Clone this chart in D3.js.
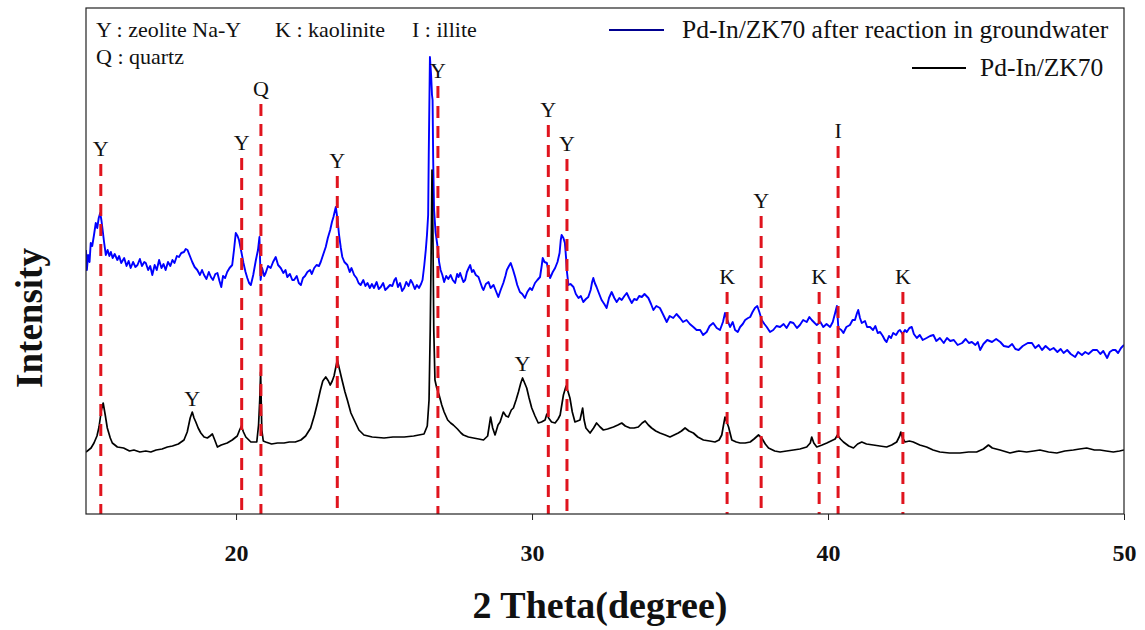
<!DOCTYPE html>
<html><head><meta charset="utf-8">
<script src="https://cdn.jsdelivr.net/npm/d3@7"></script>
<style>body{margin:0;background:#fff} svg{display:block}</style>
</head><body>
<svg id="chart" width="1145" height="630"></svg>
<script>
// ---------- data (2θ in degrees, intensity in arbitrary units) ----------
const blackPattern = [
[14.93,62],[15.1,66],[15.2,71],[15.3,78],[15.37,87],[15.45,104],[15.51,111],[15.58,99],[15.65,86],[15.75,76],[15.82,71],[15.99,67],
[16.2,66],[16.4,63],[16.55,64],[16.75,62],[16.95,63],[17.12,62],[17.3,64],[17.5,65],[17.68,67],[17.85,68],[18.05,70],[18.24,74],
[18.35,82],[18.45,96],[18.52,102],[18.58,96],[18.64,92],[18.72,86],[18.81,81],[18.92,77],[19.03,76],[19.12,78],[19.2,80],[19.28,74],
[19.37,67],[19.5,69],[19.7,71],[19.87,74],[20.04,78],[20.12,84],[20.18,88],[20.25,82],[20.33,77],[20.5,72],[20.7,72],[20.76,89],
[20.8,114],[20.83,142],[20.87,84],[20.92,73],[21.0,72],[21.2,70],[21.4,71],[21.62,71],[21.8,72],[22.0,72],[22.19,74],[22.35,78],
[22.52,86],[22.65,99],[22.75,111],[22.85,124],[22.93,133],[23.03,137],[23.12,133],[23.18,129],[23.25,133],[23.31,138],[23.42,154],
[23.5,144],[23.58,134],[23.68,122],[23.76,114],[23.88,101],[23.99,94],[24.15,84],[24.32,79],[24.6,77],[25.0,76],[25.3,77],[25.68,77],
[26.0,78],[26.35,80],[26.46,88],[26.52,114],[26.56,184],[26.6,284],[26.62,344],[26.65,284],[26.68,184],[26.72,134],[26.78,126],
[26.86,119],[26.95,109],[27.03,102],[27.15,94],[27.25,91],[27.34,89],[27.48,85],[27.6,81],[27.68,79],[27.85,77],[28.02,76],[28.2,75],
[28.36,74],[28.5,78],[28.6,97],[28.67,86],[28.75,79],[28.85,89],[28.92,92],[29.03,102],[29.12,98],[29.2,97],[29.3,104],[29.37,106],
[29.46,114],[29.54,122],[29.62,131],[29.68,136],[29.75,131],[29.82,126],[29.9,116],[29.99,106],[30.1,98],[30.21,91],[30.32,92],
[30.44,94],[30.5,100],[30.56,96],[30.66,92],[30.78,91],[30.88,95],[30.95,99],[31.06,119],[31.15,128],[31.22,122],[31.28,116],
[31.36,102],[31.45,92],[31.62,94],[31.68,102],[31.71,106],[31.76,94],[31.82,86],[31.96,81],[32.08,86],[32.18,91],[32.3,87],[32.41,84],
[32.55,85],[32.75,87],[32.9,89],[33.03,91],[33.15,88],[33.31,86],[33.45,86],[33.59,87],[33.72,91],[33.82,93],[33.93,89],[34.04,86],
[34.18,83],[34.32,81],[34.5,79],[34.66,77],[34.8,79],[34.94,81],[35.05,83],[35.17,86],[35.3,83],[35.45,81],[35.6,77],[35.79,74],
[36.0,73],[36.18,72],[36.32,74],[36.41,79],[36.47,89],[36.52,97],[36.58,92],[36.64,87],[36.75,74],[36.9,72],[37.03,71],[37.2,71],
[37.37,72],[37.5,75],[37.65,79],[37.76,76],[37.88,70],[37.99,66],[38.2,63],[38.38,62],[38.6,63],[38.83,64],[39.05,65],[39.28,67],
[39.4,71],[39.45,77],[39.52,71],[39.62,67],[39.8,69],[39.96,71],[40.1,73],[40.24,75],[40.32,79],[40.42,75],[40.52,72],[40.7,68],
[40.86,66],[41.0,70],[41.14,72],[41.3,70],[41.53,69],[41.75,68],[41.98,67],[42.15,69],[42.32,72],[42.42,78],[42.46,82],[42.52,76],
[42.6,72],[42.75,73],[42.88,72],[43.1,69],[43.33,67],[43.55,64],[43.78,62],[44.1,61],[44.46,61],[44.75,62],[45.02,62],[45.25,65],
[45.42,69],[45.55,66],[45.81,64],[46.15,61],[46.45,63],[46.71,62],[46.95,63],[47.16,64],[47.45,62],[47.73,61],[48.0,63],[48.29,64],
[48.5,65],[48.74,66],[49.0,64],[49.19,64],[49.4,63],[49.64,62],[49.85,63],[50.0,64]
];
const bluePattern = [
[14.93,264],[14.96,244],[15.0,259],[15.05,252],[15.09,271],[15.14,268],[15.2,279],[15.26,291],[15.31,286],[15.36,296],[15.41,301],
[15.45,294],[15.48,287],[15.54,272],[15.6,259],[15.66,264],[15.72,258],[15.77,262],[15.83,256],[15.9,260],[15.99,254],[16.05,258],
[16.12,251],[16.22,256],[16.3,248],[16.37,253],[16.44,246],[16.52,252],[16.6,247],[16.67,249],[16.75,255],[16.82,248],[16.9,252],
[16.95,251],[17.03,244],[17.1,248],[17.17,239],[17.25,249],[17.32,244],[17.4,254],[17.48,246],[17.55,250],[17.62,244],[17.7,252],
[17.78,248],[17.85,254],[17.92,251],[18.0,258],[18.07,257],[18.15,261],[18.24,262],[18.3,265],[18.36,264],[18.44,258],[18.52,252],
[18.6,247],[18.69,244],[18.78,239],[18.85,244],[18.92,239],[19.0,235],[19.08,242],[19.15,237],[19.22,234],[19.3,240],[19.37,241],
[19.44,233],[19.5,227],[19.56,238],[19.63,236],[19.7,242],[19.78,246],[19.87,249],[19.93,264],[19.99,281],[20.05,278],[20.1,274],
[20.18,262],[20.25,251],[20.32,242],[20.38,236],[20.44,231],[20.5,229],[20.58,239],[20.67,254],[20.74,264],[20.79,277],[20.83,234],
[20.88,246],[20.95,238],[21.0,241],[21.08,248],[21.17,246],[21.25,252],[21.34,257],[21.42,249],[21.51,246],[21.6,241],[21.67,244],
[21.73,237],[21.82,240],[21.9,234],[21.96,234],[22.05,238],[22.12,231],[22.19,229],[22.26,236],[22.33,238],[22.41,242],[22.5,244],
[22.56,240],[22.64,246],[22.72,249],[22.8,248],[22.86,252],[22.95,260],[23.03,267],[23.1,276],[23.18,284],[23.24,292],[23.29,297],
[23.37,307],[23.43,294],[23.48,279],[23.54,266],[23.59,257],[23.66,252],[23.76,249],[23.84,242],[23.9,246],[23.99,239],[24.07,236],
[24.14,231],[24.21,229],[24.3,234],[24.37,228],[24.44,231],[24.52,226],[24.59,230],[24.66,226],[24.75,232],[24.82,225],[24.89,227],
[24.97,231],[25.04,224],[25.11,226],[25.2,229],[25.28,228],[25.35,234],[25.4,236],[25.47,227],[25.54,231],[25.61,223],[25.68,226],
[25.75,232],[25.83,228],[25.9,234],[25.96,231],[26.04,225],[26.11,229],[26.18,226],[26.25,230],[26.3,234],[26.36,249],[26.41,264],
[26.45,279],[26.49,299],[26.51,359],[26.55,457],[26.59,439],[26.62,419],[26.64,414],[26.66,354],[26.69,304],[26.74,282],[26.8,269],
[26.86,252],[26.91,244],[26.97,239],[27.03,232],[27.1,238],[27.17,235],[27.25,239],[27.32,234],[27.4,231],[27.47,240],[27.52,237],
[27.57,241],[27.63,236],[27.68,232],[27.74,234],[27.8,242],[27.86,246],[27.91,249],[27.97,242],[28.02,244],[28.1,239],[28.19,237],
[28.26,231],[28.32,226],[28.36,224],[28.44,230],[28.53,232],[28.6,226],[28.7,229],[28.78,223],[28.86,217],[28.94,224],[29.03,231],
[29.1,238],[29.15,244],[29.22,248],[29.28,251],[29.36,244],[29.43,237],[29.5,229],[29.59,222],[29.67,220],[29.76,216],[29.84,222],
[29.93,226],[30.0,224],[30.1,231],[30.18,234],[30.27,237],[30.33,249],[30.36,256],[30.42,252],[30.5,251],[30.56,242],[30.61,236],
[30.7,242],[30.78,246],[30.86,252],[30.93,261],[30.97,274],[31.0,279],[31.06,276],[31.11,271],[31.15,256],[31.18,242],[31.23,229],
[31.3,230],[31.4,227],[31.48,220],[31.57,216],[31.65,218],[31.73,212],[31.82,215],[31.9,217],[31.98,224],[32.03,232],[32.07,236],
[32.12,231],[32.18,227],[32.27,220],[32.35,214],[32.44,210],[32.52,206],[32.6,216],[32.69,222],[32.78,216],[32.86,212],[32.95,216],
[33.03,214],[33.12,218],[33.2,221],[33.28,216],[33.37,211],[33.45,215],[33.54,214],[33.62,218],[33.71,217],[33.8,220],[33.93,216],
[34.02,210],[34.1,204],[34.2,208],[34.32,206],[34.42,200],[34.55,192],[34.65,198],[34.77,196],[34.88,200],[35.0,196],[35.1,192],
[35.22,194],[35.33,190],[35.45,187],[35.56,184],[35.68,184],[35.78,179],[35.9,182],[36.0,188],[36.12,191],[36.24,186],[36.35,184],
[36.45,192],[36.52,201],[36.6,194],[36.69,187],[36.78,192],[36.86,184],[36.95,182],[37.03,187],[37.12,190],[37.2,194],[37.3,196],
[37.37,197],[37.45,202],[37.53,206],[37.61,208],[37.68,202],[37.76,194],[37.85,190],[37.93,187],[38.04,182],[38.15,184],[38.26,188],
[38.38,187],[38.5,190],[38.6,186],[38.72,192],[38.83,191],[38.95,186],[39.05,189],[39.16,194],[39.28,192],[39.37,197],[39.45,194],
[39.55,191],[39.62,189],[39.74,192],[39.84,187],[39.95,190],[40.07,187],[40.16,192],[40.24,201],[40.3,208],[40.35,186],[40.45,184],
[40.52,181],[40.62,187],[40.74,189],[40.83,194],[40.91,194],[40.98,201],[41.02,204],[41.08,196],[41.14,191],[41.25,193],[41.32,187],
[41.42,187],[41.52,184],[41.6,188],[41.68,181],[41.76,182],[41.85,178],[41.92,174],[41.98,172],[42.06,178],[42.13,176],[42.2,181],
[42.3,179],[42.38,183],[42.43,184],[42.52,180],[42.6,184],[42.66,182],[42.75,186],[42.83,187],[42.9,180],[43.0,176],[43.1,179],
[43.2,174],[43.33,176],[43.45,178],[43.56,179],[43.66,173],[43.78,176],[43.91,171],[44.02,176],[44.13,173],[44.25,174],[44.38,169],
[44.53,171],[44.65,175],[44.76,171],[44.86,172],[44.98,169],[45.06,172],[45.14,164],[45.25,170],[45.38,174],[45.54,172],[45.68,175],
[45.82,172],[45.94,168],[46.1,167],[46.22,170],[46.33,165],[46.44,164],[46.58,168],[46.75,171],[46.89,171],[47.0,166],[47.12,169],
[47.23,164],[47.35,168],[47.5,164],[47.62,166],[47.75,162],[47.86,165],[47.96,161],[48.08,164],[48.2,160],[48.35,157],[48.45,162],
[48.58,159],[48.69,162],[48.8,160],[48.95,164],[49.09,164],[49.2,160],[49.3,163],[49.43,156],[49.52,162],[49.62,164],[49.71,164],
[49.8,161],[49.9,166],[50.0,169]
];
// reference (dashed) lines: 2θ position, phase letter, top of line (intensity units)
const refPositions = [15.43, 20.19, 20.84, 23.42, 26.82, 30.55, 31.18, 36.59, 37.74, 39.70, 40.34, 42.53];
const refLetters   = ["Y",   "Y",   "Q",   "Y",   "Y",   "Y",   "Y",   "K",   "Y",   "K",   "I",   "K"];
const refTops      = [350,   356,   410,   338,   428,   389,   355,   222,   298,   222,   368,   222];
// extra peak letters on the black pattern
const extraLabelPos  = [18.52, 29.68];
const extraLabelText = ["Y", "Y"];
const extraLabelY    = [108, 143];
const xTicks = [20, 30, 40, 50];
const phaseKey = ["Y : zeolite Na-Y", "K : kaolinite", "I : illite", "Q : quartz"];
const seriesNames = ["Pd-In/ZK70 after reaction in groundwater", "Pd-In/ZK70"];
const seriesColors = ["#0000ff", "#000000"];

// ---------- drawing ----------
const svg = d3.select("#chart");
const serif = "'Liberation Serif','Times New Roman',serif";
const L = 86, R = 1124, T = 8, B = 514;
const x = d3.scaleLinear().domain([14.93, 50]).range([L, R]);
const y = d3.scaleLinear().domain([0, 506]).range([B, T]);

svg.append("defs").append("clipPath").attr("id", "clip")
  .append("rect").attr("x", L).attr("y", T).attr("width", R - L).attr("height", B - T);

const line = d3.line().x(d => x(d[0])).y(d => y(d[1]));
const plot = svg.append("g").attr("clip-path", "url(#clip)");

plot.append("path").datum(bluePattern).attr("d", line)
  .attr("fill", "none").attr("stroke", seriesColors[0]).attr("stroke-width", 1.9).attr("stroke-linejoin", "round");
plot.append("path").datum(blackPattern).attr("d", line)
  .attr("fill", "none").attr("stroke", seriesColors[1]).attr("stroke-width", 1.7).attr("stroke-linejoin", "round");

// dashed reference lines
const refs = refPositions.map((p, i) => ({p, t: refLetters[i], top: refTops[i]}));
svg.append("g").selectAll("line").data(refs).join("line")
  .attr("x1", d => x(d.p)).attr("x2", d => x(d.p))
  .attr("y1", d => y(d.top)).attr("y2", B)
  .attr("stroke", "#e0141e").attr("stroke-width", 3).attr("stroke-dasharray", "12,8");
svg.append("g").selectAll("text").data(refs).join("text")
  .attr("x", d => x(d.p)).attr("y", d => y(d.top) - 8)
  .attr("text-anchor", "middle").attr("font-family", serif).attr("font-size", 22).attr("fill", "#111")
  .text(d => d.t);
svg.append("g").selectAll("text").data(extraLabelPos).join("text")
  .attr("x", d => x(d)).attr("y", (d, i) => y(extraLabelY[i]))
  .attr("text-anchor", "middle").attr("font-family", serif).attr("font-size", 22).attr("fill", "#111")
  .text((d, i) => extraLabelText[i]);

// frame
svg.append("rect").attr("x", L).attr("y", T).attr("width", R - L).attr("height", B - T)
  .attr("fill", "none").attr("stroke", "#222").attr("stroke-width", 1.2);

// x axis
const xAxis = svg.append("g").attr("transform", `translate(0,${B})`)
  .call(d3.axisBottom(x).tickValues(xTicks).tickSize(6).tickFormat(d3.format("d")));
xAxis.select(".domain").remove();
xAxis.selectAll("line").attr("stroke", "#222");
xAxis.selectAll("text").attr("font-family", serif).attr("font-size", 24).attr("font-weight", "bold")
  .attr("fill", "#111").attr("y", 47).attr("dy", null);

// axis titles
svg.append("text").attr("x", 600).attr("y", 618).attr("text-anchor", "middle")
  .attr("font-family", serif).attr("font-size", 38).attr("font-weight", "bold").attr("fill", "#111")
  .text("2 Theta(degree)");
svg.append("text").attr("transform", "translate(42,318) rotate(-90)").attr("text-anchor", "middle")
  .attr("font-family", serif).attr("font-size", 37).attr("font-weight", "bold").attr("fill", "#111")
  .text("Intensity");

// phase key (top-left)
const keyPos = [[96, 37], [275, 37], [412, 37], [96, 64]];
svg.append("g").selectAll("text").data(phaseKey).join("text")
  .attr("x", (d, i) => keyPos[i][0]).attr("y", (d, i) => keyPos[i][1])
  .attr("font-family", serif).attr("font-size", 22).attr("fill", "#111").text(d => d);

// series legend (top-right)
const legPos = [{x1: 609, x2: 664, ly: 30, tx: 682, ty: 38}, {x1: 912, x2: 966, ly: 68, tx: 980, ty: 76}];
const leg = svg.append("g");
seriesNames.forEach((n, i) => {
  const p = legPos[i];
  leg.append("line").attr("x1", p.x1).attr("x2", p.x2).attr("y1", p.ly).attr("y2", p.ly)
    .attr("stroke", i === 0 ? "#000090" : "#000").attr("stroke-width", 2);
  leg.append("text").attr("x", p.tx).attr("y", p.ty).attr("font-family", serif).attr("font-size", 25.5)
    .attr("fill", "#111").text(n);
});
</script>
</body></html>
